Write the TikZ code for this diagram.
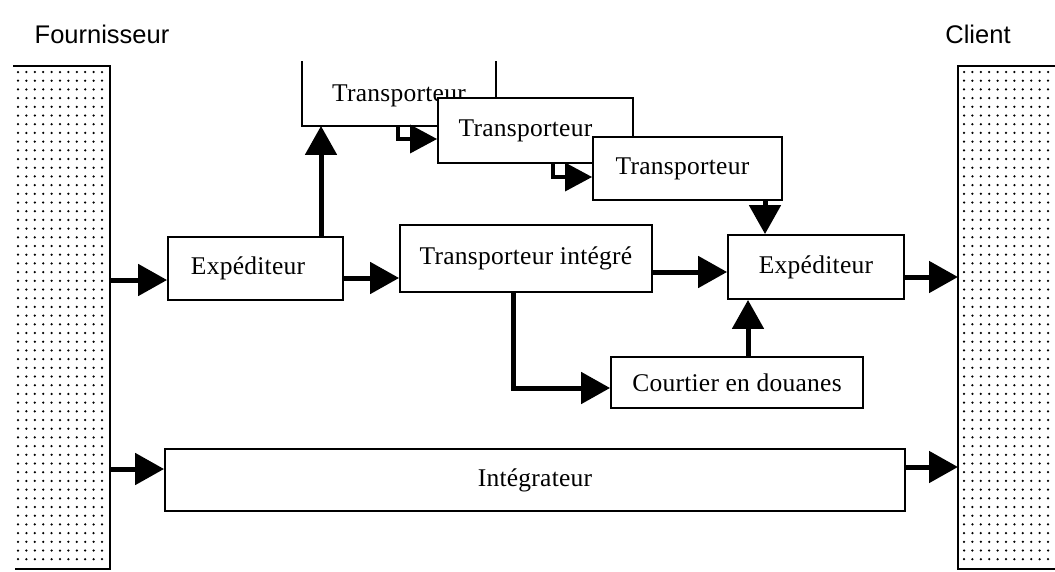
\documentclass[tikz,border=0pt]{standalone}
\usepackage{fontspec}
\setmainfont{Liberation Serif}
\newfontfamily\boxfont[LetterSpace=1]{Liberation Serif}
\newfontfamily\headfont{Liberation Sans}
\usetikzlibrary{arrows.meta}
\tikzset{
  box/.style={draw, line width=1.8pt, fill=white, rectangle, inner sep=0pt, font=\boxfont\fontsize{25.5}{28}\selectfont},
  big/.style={line width=5pt, -{Triangle[length=29pt,width=31pt]}},
  small/.style={line width=3.5pt, -{Triangle[length=27pt,width=28pt]}},
  head/.style={font=\headfont\fontsize{25.5}{28}\selectfont},
  border/.style={line width=1.8pt},
}
\begin{document}
\begin{tikzpicture}[x=1pt,y=-1pt]
\useasboundingbox (0,0) rectangle (1055,571);
% pillars
\foreach \i in {0,...,10} \foreach \j in {0,...,56} {
  \fill (18+\i*8.4, 72+\j*8.7) circle (1.25pt);
}
\foreach \i in {0,...,10} \foreach \j in {0,...,56} {
  \fill (964+\i*8.4, 72+\j*8.7) circle (1.25pt);
}
\draw[border] (13,66) -- (110,66) -- (110,569) -- (15,569);
\draw[border] (1055,66) -- (958,66) -- (958,569) -- (1055,569);
\node[head] (four) at (102,34) {Fournisseur};
\node[head] (cli) at (978,34) {Client};
% transporteurs
\node[box, draw=none, minimum width=192pt, minimum height=63pt, text depth=0pt] (T1) at (399,93.5) {Transporteur};
\draw[line width=1.8pt] (T1.north west) -- (T1.south west) -- (T1.south east) -- (T1.north east);
\node[box, minimum width=195pt, minimum height=65pt] (T2) at (535.5,130.5) {\hspace*{-20pt}Transporteur};
\node[box, minimum width=189pt, minimum height=63pt] (T3) at (687.5,168.5) {\hspace*{-10pt}Transporteur};
% main row
\node[box, minimum width=175pt, minimum height=63pt] (E1) at (255.5,268.5) {\hspace*{-15pt}Expéditeur};
\node[box, minimum width=252pt, minimum height=67pt] (TI) at (526,258.5) {Transporteur intégré};
\node[box, minimum width=176pt, minimum height=64pt] (E2) at (816,267) {Expéditeur};
\node[box, minimum width=252pt, minimum height=51pt] (CD) at (737,382.5) {\raisebox{-6pt}{Courtier en douanes}};
\node[box, minimum width=740pt, minimum height=62pt] (IN) at (535,480) {Intégrateur};
% pillar coordinates
\coordinate (L1) at (110,280);
\coordinate (L2) at (110,469);
\coordinate (R1) at (958,277);
\coordinate (R2) at (958,467);
% arrows
\draw[big] (L1) -- (L1 -| E1.west);
\draw[big] (E1.east |- 0,278) -- (TI.west |- 0,278);
\draw[big] (TI.east |- 0,272) -- (E2.west |- 0,272);
\draw[big] (E2.east |- R1) -- (R1);
\draw[big] (L2) -- (L2 -| IN.west);
\draw[big] (IN.east |- R2) -- (R2);
\draw[big] (E1.north -| 321,0) -- (T1.south -| 321,0);
\draw[small] (T1.south -| 398,0) |- (T2.west |- 0,139);
\draw[small] (T2.south -| 553,0) |- (T3.west |- 0,177);
\draw[big] (T3.south -| 765,0) -- (E2.north -| 765,0);
\draw[big] (TI.south -| 513,0) |- (CD.west |- 0,388);
\draw[big] (CD.north -| 748,0) -- (E2.south -| 748,0);
\end{tikzpicture}
\end{document}
